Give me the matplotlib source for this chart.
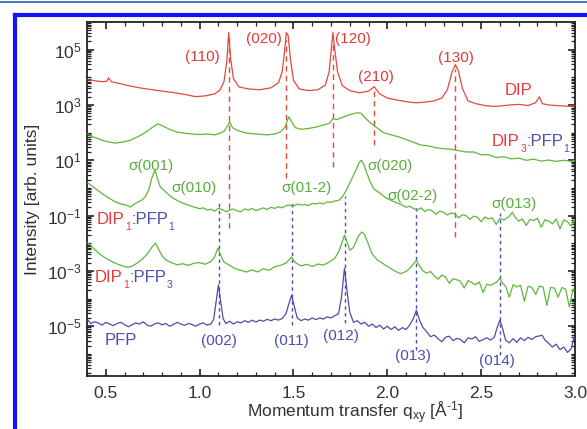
import numpy as np
import matplotlib
matplotlib.use("Agg")
import matplotlib.pyplot as plt
from matplotlib.lines import Line2D
from matplotlib.ticker import FixedLocator, MultipleLocator, FuncFormatter, NullFormatter

plt.rcParams['font.family'] = ['Liberation Sans', 'DejaVu Sans']
plt.rcParams['mathtext.fontset'] = 'custom'
plt.rcParams['mathtext.rm'] = 'Liberation Sans'
plt.rcParams['mathtext.it'] = 'Liberation Sans:italic'
plt.rcParams['mathtext.bf'] = 'Liberation Sans:bold'
plt.rcParams['mathtext.default'] = 'regular'

# ---------------- data (q in 1/Angstrom, log10 of intensity) ----------------
dip_q = [0.405, 0.44, 0.48, 0.505, 0.515, 0.53, 0.57, 0.62, 0.68, 0.74,
         0.80, 0.86, 0.92, 0.98, 1.03, 1.08, 1.11, 1.13, 1.145, 1.155,
         1.165, 1.18, 1.21, 1.26, 1.32, 1.38, 1.42, 1.44, 1.452, 1.462,
         1.472, 1.485, 1.50, 1.53, 1.58, 1.63, 1.67, 1.69, 1.70, 1.71,
         1.72, 1.735, 1.76, 1.80, 1.85, 1.90, 1.93, 1.96, 2.00, 2.05,
         2.10, 2.15, 2.20, 2.25, 2.29, 2.32, 2.345, 2.363, 2.38, 2.40,
         2.43, 2.47, 2.52, 2.56, 2.60, 2.65, 2.70, 2.75, 2.79, 2.81,
         2.825, 2.86, 2.92, 2.97, 3.00]
dip_logI = [3.91, 3.88, 3.84, 3.86, 3.98, 3.84, 3.78, 3.70, 3.62, 3.56,
            3.50, 3.45, 3.38, 3.30, 3.33, 3.40, 3.55, 3.85, 4.60, 5.62,
            4.70, 3.95, 3.65, 3.58, 3.55, 3.62, 3.80, 4.20, 4.90, 5.62,
            5.50, 4.60, 3.90, 3.58, 3.52, 3.55, 3.72, 4.20, 4.90, 5.62,
            5.00, 4.20, 3.70, 3.52, 3.44, 3.50, 3.66, 3.40, 3.25, 3.18,
            3.12, 3.08, 3.10, 3.15, 3.25, 3.55, 4.20, 4.46, 4.20, 3.60,
            3.15, 3.05, 2.98, 2.95, 2.96, 3.00, 3.02, 2.98, 3.08, 3.30,
            3.05, 3.00, 2.97, 2.95, 2.97]

dip3pfp1_q = [0.405, 0.43, 0.46, 0.49, 0.52, 0.55, 0.59, 0.63, 0.67, 0.71,
              0.74, 0.777, 0.80, 0.84, 0.88, 0.92, 0.96, 1.00, 1.04, 1.08,
              1.11, 1.13, 1.145, 1.16, 1.175, 1.20, 1.24, 1.28, 1.32, 1.36,
              1.40, 1.43, 1.455, 1.475, 1.49, 1.51, 1.54, 1.58, 1.62, 1.66,
              1.69, 1.71, 1.73, 1.76, 1.80, 1.84, 1.86, 1.88, 1.91, 1.94,
              1.98, 2.02, 2.06, 2.10, 2.14, 2.18, 2.22, 2.26, 2.30, 2.34,
              2.38, 2.42, 2.46, 2.50, 2.54, 2.58, 2.62, 2.66, 2.70, 2.74,
              2.78, 2.82, 2.86, 2.90, 2.94, 2.98, 3.00]
dip3pfp1_logI = [1.95, 1.85, 1.78, 1.70, 1.66, 1.62, 1.66, 1.72, 1.85, 2.00,
                 2.15, 2.32, 2.25, 2.12, 2.02, 1.98, 1.95, 1.93, 1.95, 1.92,
                 1.98, 2.05, 2.20, 2.39, 2.18, 2.08, 2.00, 1.96, 1.94, 1.92,
                 1.95, 2.02, 2.20, 2.57, 2.40, 2.18, 2.12, 2.15, 2.20, 2.28,
                 2.33, 2.50, 2.47, 2.55, 2.65, 2.72, 2.70, 2.55, 2.35, 2.20,
                 2.00, 1.92, 1.85, 1.75, 1.65, 1.55, 1.52, 1.45, 1.42, 1.40,
                 1.35, 1.30, 1.30, 1.20, 1.20, 1.10, 1.13, 1.05, 1.08, 1.00,
                 1.04, 0.97, 1.01, 0.96, 1.00, 0.96, 0.99]

dip1pfp1_q = [0.405, 0.43, 0.46, 0.49, 0.52, 0.55, 0.58, 0.61, 0.63, 0.66,
              0.69, 0.71, 0.73, 0.745, 0.762, 0.775, 0.79, 0.82, 0.85, 0.88,
              0.91, 0.94, 0.97, 1.00, 1.02, 1.04, 1.06, 1.08, 1.10, 1.12,
              1.14, 1.16, 1.18, 1.20, 1.22, 1.24, 1.26, 1.28, 1.30, 1.32,
              1.34, 1.36, 1.38, 1.40, 1.42, 1.44, 1.46, 1.48, 1.50, 1.52,
              1.54, 1.56, 1.58, 1.60, 1.62, 1.64, 1.66, 1.68, 1.70, 1.72,
              1.74, 1.76, 1.78, 1.80, 1.83, 1.85, 1.862, 1.875, 1.89, 1.91,
              1.93, 1.96, 1.99, 2.02, 2.05, 2.08, 2.10, 2.12, 2.14, 2.16,
              2.18, 2.20, 2.22, 2.24, 2.26, 2.28, 2.30, 2.32, 2.34, 2.36,
              2.38, 2.40, 2.42, 2.44, 2.46, 2.48, 2.50, 2.52, 2.54, 2.56,
              2.58, 2.60, 2.62, 2.64, 2.655, 2.666, 2.68, 2.70, 2.72, 2.74,
              2.76, 2.78, 2.80, 2.82, 2.84, 2.86, 2.88, 2.90, 2.92, 2.94,
              2.96, 2.98, 3.00]
dip1pfp1_logI = [0.18, 0.05, -0.10, -0.25, -0.38, -0.50, -0.58, -0.62, -0.69, -0.55,
                 -0.45, -0.33, -0.05, 0.35, 0.65, 0.35, 0.04, -0.15, -0.33, -0.45,
                 -0.55, -0.62, -0.69, -0.75, -0.72, -0.80, -0.77, -0.84, -0.74, -0.78,
                 -0.86, -0.80, -0.76, -0.83, -0.86, -0.76, -0.80, -0.74, -0.82, -0.77,
                 -0.72, -0.78, -0.70, -0.74, -0.68, -0.72, -0.64, -0.62, -0.66, -0.58,
                 -0.62, -0.60, -0.64, -0.56, -0.58, -0.54, -0.58, -0.50, -0.52, -0.47,
                 -0.45, -0.33, -0.10, 0.18, 0.60, 0.92, 1.00, 0.85, 0.55, 0.20,
                 -0.05, -0.18, -0.35, -0.45, -0.54, -0.62, -0.70, -0.66, -0.75, -0.80,
                 -0.72, -0.85, -0.78, -0.83, -0.95, -0.84, -0.88, -0.98, -0.90, -0.94,
                 -1.08, -0.97, -1.00, -1.14, -1.02, -1.06, -1.22, -1.05, -1.12, -1.08,
                 -1.32, -1.10, -1.16, -1.08, -0.98, -0.88, -1.05, -1.20, -1.12, -1.36,
                 -1.14, -1.18, -1.10, -1.42, -1.15, -1.20, -1.30, -1.12, -1.48, -1.16,
                 -1.22, -1.38, -1.15]

dip1pfp3_q = [0.405, 0.43, 0.46, 0.49, 0.52, 0.55, 0.58, 0.61, 0.63, 0.66,
              0.69, 0.72, 0.745, 0.765, 0.78, 0.80, 0.82, 0.85, 0.88, 0.91,
              0.94, 0.97, 1.00, 1.03, 1.06, 1.08, 1.097, 1.11, 1.13, 1.16,
              1.19, 1.22, 1.25, 1.28, 1.31, 1.34, 1.37, 1.40, 1.43, 1.46,
              1.49, 1.51, 1.54, 1.57, 1.60, 1.63, 1.66, 1.69, 1.72, 1.745,
              1.772, 1.785, 1.80, 1.82, 1.845, 1.865, 1.88, 1.90, 1.92, 1.95,
              1.98, 2.01, 2.04, 2.07, 2.10, 2.12, 2.14, 2.155, 2.17, 2.19,
              2.21, 2.23, 2.25, 2.27, 2.29, 2.31, 2.33, 2.35, 2.37, 2.39,
              2.41, 2.43, 2.45, 2.47, 2.49, 2.51, 2.53, 2.55, 2.57, 2.585,
              2.60, 2.615, 2.63, 2.65, 2.67, 2.69, 2.71, 2.73, 2.75, 2.77,
              2.79, 2.81, 2.83, 2.85, 2.87, 2.89, 2.91, 2.93, 2.95, 2.97,
              2.99, 3.00]
dip1pfp3_logI = [-1.99, -2.15, -2.35, -2.50, -2.62, -2.72, -2.80, -2.86, -2.86, -2.75,
                 -2.60, -2.40, -2.15, -1.99, -2.20, -2.45, -2.60, -2.70, -2.78, -2.74,
                 -2.80, -2.72, -2.70, -2.76, -2.66, -2.50, -2.17, -2.40, -2.68, -2.80,
                 -2.92, -2.98, -3.04, -2.96, -3.04, -2.92, -2.98, -2.85, -2.80, -2.72,
                 -2.50, -2.70, -2.82, -2.76, -2.84, -2.75, -2.79, -2.68, -2.55, -2.25,
                 -1.70, -1.95, -2.25, -2.15, -1.75, -1.59, -1.70, -2.05, -2.40, -2.62,
                 -2.75, -2.88, -3.00, -3.10, -3.02, -2.90, -2.75, -2.61, -2.80, -3.00,
                 -3.08, -3.02, -3.18, -3.30, -3.15, -3.22, -3.45, -3.28, -3.32, -3.38,
                 -3.62, -3.35, -3.42, -3.50, -3.40, -3.78, -3.48, -3.52, -3.45, -3.40,
                 -3.26, -3.45, -3.55, -3.95, -3.50, -3.58, -3.52, -4.10, -3.55, -3.60,
                 -3.85, -3.55, -3.58, -4.25, -3.60, -3.62, -3.95, -3.60, -3.66, -4.30,
                 -3.65, -3.70]

pfp_q = [0.405, 0.42, 0.44, 0.46, 0.48, 0.50, 0.52, 0.54, 0.56, 0.58,
         0.60, 0.62, 0.64, 0.66, 0.68, 0.70, 0.72, 0.74, 0.76, 0.78,
         0.80, 0.82, 0.84, 0.86, 0.88, 0.90, 0.92, 0.94, 0.96, 0.98,
         1.00, 1.02, 1.04, 1.06, 1.075, 1.088, 1.10, 1.112, 1.125, 1.14,
         1.16, 1.18, 1.20, 1.22, 1.24, 1.26, 1.28, 1.30, 1.32, 1.34,
         1.36, 1.38, 1.40, 1.42, 1.44, 1.46, 1.475, 1.49, 1.505, 1.52,
         1.54, 1.56, 1.58, 1.60, 1.62, 1.64, 1.66, 1.68, 1.70, 1.72,
         1.74, 1.755, 1.772, 1.785, 1.80, 1.82, 1.84, 1.86, 1.88, 1.90,
         1.92, 1.94, 1.96, 1.98, 2.00, 2.02, 2.04, 2.06, 2.08, 2.10,
         2.12, 2.14, 2.155, 2.17, 2.19, 2.21, 2.23, 2.25, 2.27, 2.29,
         2.31, 2.33, 2.35, 2.37, 2.39, 2.41, 2.43, 2.45, 2.47, 2.49,
         2.51, 2.53, 2.55, 2.57, 2.585, 2.60, 2.615, 2.63, 2.65, 2.67,
         2.69, 2.71, 2.73, 2.75, 2.77, 2.79, 2.81, 2.825, 2.84, 2.86,
         2.88, 2.90, 2.92, 2.94, 2.96, 2.98, 2.995]
pfp_logI = [-4.78, -4.90, -4.84, -4.88, -4.96, -4.86, -4.92, -4.98, -4.90, -4.86,
            -4.94, -5.02, -4.95, -4.88, -4.92, -4.84, -4.96, -5.00, -4.92, -4.88,
            -4.95, -4.90, -5.00, -4.94, -4.86, -4.92, -4.97, -4.90, -4.94, -5.00,
            -4.92, -4.88, -4.96, -4.92, -4.75, -4.10, -3.51, -4.10, -4.72, -4.90,
            -4.82, -4.92, -4.84, -4.88, -4.80, -4.86, -4.78, -4.85, -4.78, -4.82,
            -4.75, -4.80, -4.74, -4.78, -4.72, -4.55, -4.20, -3.88, -4.30, -4.70,
            -4.80, -4.74, -4.78, -4.70, -4.76, -4.70, -4.74, -4.66, -4.70, -4.62,
            -4.55, -4.00, -2.90, -3.70, -4.50, -4.86, -4.80, -4.92, -4.86, -5.00,
            -4.92, -5.05, -4.96, -5.10, -5.00, -5.12, -5.02, -5.15, -5.05, -5.12,
            -4.95, -4.70, -4.42, -4.75, -5.05, -5.20, -5.38, -5.32, -5.45, -5.56,
            -5.40, -5.36, -5.52, -5.44, -5.48, -5.60, -5.42, -5.46, -5.38, -5.55,
            -5.48, -5.42, -5.50, -5.40, -5.05, -4.78, -5.10, -5.50, -5.60, -5.45,
            -5.58, -5.42, -5.52, -5.40, -5.48, -5.38, -5.35, -5.33, -5.50, -5.62,
            -5.75, -5.65, -5.85, -5.75, -5.95, -5.80, -5.40]

# reflections: DIP (red dashed) and PFP (blue dotted) positions, with vertical extent (log10)
dip_refl = ["(110)", "(020)", "(120)", "(210)", "(130)"]
dip_refl_q = [1.155, 1.462, 1.71, 1.93, 2.363]
dip_refl_top = [5.55, 5.35, 5.2, 3.5, 4.3]
dip_refl_bottom = [-1.45, 0.36, 0.76, 1.56, -1.78]

pfp_refl = ["(002)", "(011)", "(012)", "(013)", "(014)"]
pfp_refl_q = [1.102, 1.49, 1.772, 2.155, 2.60]
pfp_refl_top = [-0.45, -0.45, -0.3, -0.7, -0.9]
pfp_refl_bottom = [-4.96, -4.96, -4.9, -5.85, -6.05]

sigma_labels = ["\u03c3(001)", "\u03c3(010)", "\u03c3(01-2)", "\u03c3(020)", "\u03c3(02-2)", "\u03c3(013)"]

RED = "#e5483f"
GREEN = "#5db83c"
BLUE = "#4d4dab"
TRED = "#e23a3a"
TGREEN = "#5aae3e"
TBLUE = "#4b4fae"

fig = plt.figure(figsize=(5.87, 4.29), dpi=100)
fig.patch.set_facecolor("white")
ax = fig.add_axes([87/587, 1-376/429, 488/587, 354/429])

def L(a):
    return 10.0 ** np.asarray(a)

for qv, top, bot in zip(dip_refl_q, dip_refl_top, dip_refl_bottom):
    ax.plot([qv, qv], [10**bot, 10**top], color=RED, lw=1.0, ls=(0, (4, 3)), zorder=1)
for qv, top, bot in zip(pfp_refl_q, pfp_refl_top, pfp_refl_bottom):
    ax.plot([qv, qv], [10**bot, 10**top], color=BLUE, lw=1.0, ls=(0, (2.5, 2.5)), zorder=1)

lw = 0.9
ax.plot(dip_q, L(dip_logI), color=RED, lw=lw, zorder=3)
ax.plot(dip3pfp1_q, L(dip3pfp1_logI), color=GREEN, lw=lw, zorder=3)
ax.plot(dip1pfp1_q, L(dip1pfp1_logI), color=GREEN, lw=lw, zorder=3)
ax.plot(dip1pfp3_q, L(dip1pfp3_logI), color=GREEN, lw=lw, zorder=3)
ax.plot(pfp_q, L(pfp_logI), color=BLUE, lw=lw, zorder=3)

ax.set_yscale("log")
ax.set_xlim(0.4, 3.0)
ax.set_ylim(10**-6.8, 10**6.0)

# labels of reflections
fs = 11
dip_lbl_pos = [(1.017, 4.75), (1.341, 5.40), (1.815, 5.40), (1.937, 4.02), (2.368, 4.71)]
for s, (x, y) in zip(dip_refl, dip_lbl_pos):
    ax.text(x, 10**y, s, color=TRED, fontsize=fs, ha="center", va="center")
pfp_lbl_pos = [(1.102, -5.54), (1.49, -5.54), (1.751, -5.36), (2.139, -6.09), (2.586, -6.27)]
for s, (x, y) in zip(pfp_refl, pfp_lbl_pos):
    ax.text(x, 10**y, s, color=TBLUE, fontsize=fs, ha="center", va="center")
sig_lbl_pos = [(0.740, 0.80), (0.969, 0.0), (1.570, 0.0), (2.017, 0.80), (2.134, -0.29), (2.677, -0.58)]
for s, (x, y) in zip(sigma_labels, sig_lbl_pos):
    ax.text(x, 10**y, s, color=TGREEN, fontsize=fs, ha="center", va="center")

# sample labels
ax.text((519-87)/488, (376-95)/354, "DIP", color=TRED, fontsize=12, ha="center",
        va="baseline", transform=ax.transAxes)
ax.text((105-87)/488, (376-345)/354, "PFP", color=TBLUE, fontsize=12, ha="left",
        va="baseline", transform=ax.transAxes)

def mixed_label(x, y, n1, n2):
    t1 = ax.text(x, y, "DIP", color=TRED, fontsize=12, ha="left", va="baseline",
                 transform=ax.transAxes, zorder=5)
    t2 = ax.annotate(n1, xy=(1, 0), xycoords=t1, xytext=(0.3, -3.5),
                     textcoords="offset points", color=TRED, fontsize=7.5,
                     ha="left", va="bottom", zorder=5)
    t3 = ax.annotate(":PFP", xy=(1, 0), xycoords=(t2, t1), xytext=(0.2, 0),
                     textcoords="offset points", color=TBLUE, fontsize=12,
                     ha="left", va="bottom", zorder=5)
    ax.annotate(n2, xy=(1, 0), xycoords=t3, xytext=(0.3, -3.5),
                textcoords="offset points", color=TBLUE, fontsize=7.5,
                ha="left", va="bottom", zorder=5)

mixed_label((97-87)/488, (376-224)/354, "1", "1")
mixed_label((95-87)/488, (376-282)/354, "1", "3")
mixed_label((492-87)/488, (376-146)/354, "3", "1")

# axes styling
for sp in ax.spines.values():
    sp.set_linewidth(1.3)
    sp.set_color("#222222")
ax.xaxis.set_major_locator(MultipleLocator(0.5))
ax.xaxis.set_minor_locator(MultipleLocator(0.1))
ax.xaxis.set_major_formatter(FuncFormatter(lambda v, p: f"{v:.1f}"))
ax.yaxis.set_major_locator(FixedLocator([10.0**k for k in range(-5, 6, 2)]))
ax.yaxis.set_major_formatter(FuncFormatter(lambda v, p: f"$10^{{{int(round(np.log10(v)))}}}$"))
ax.yaxis.set_minor_locator(FixedLocator([m * 10.0**k for k in range(-7, 6) for m in range(1, 10)
                                         if not (m == 1 and k % 2 == 1)]))
ax.yaxis.set_minor_formatter(NullFormatter())
ax.tick_params(which="both", direction="in", top=True, right=True, colors="#222222")
ax.tick_params(which="major", length=5, width=1.2, labelsize=12.5, labelcolor="#333333")
ax.tick_params(which="minor", length=3, width=0.9)
ax.tick_params(axis="x", which="major", pad=7)
ax.tick_params(axis="y", which="major", pad=4)

ax.set_xlabel("Momentum transfer q$_{xy}$ [Å$^{\u2010 1}$]", fontsize=12.5, color="#333333")
ax.set_ylabel("Intensity [arb. units]", fontsize=12.5, color="#333333")
ax.xaxis.set_label_coords(0.55, -0.066)
ax.yaxis.set_label_coords(-0.097, 0.5)

# journal frame decorations
fig.add_artist(Line2D([0, 1], [1 - 1.8/429, 1 - 1.8/429], transform=fig.transFigure,
                      color="#2f6fc2", lw=1.3))
fig.add_artist(Line2D([15/587, 15/587], [0, 1 - 14.5/429], transform=fig.transFigure,
                      color="#1414f5", lw=3.0, solid_capstyle="projecting"))
fig.add_artist(Line2D([15/587, 1], [1 - 14.5/429, 1 - 14.5/429], transform=fig.transFigure,
                      color="#1414f5", lw=3.0, solid_capstyle="projecting"))

fig.savefig("out.png", dpi=100)
